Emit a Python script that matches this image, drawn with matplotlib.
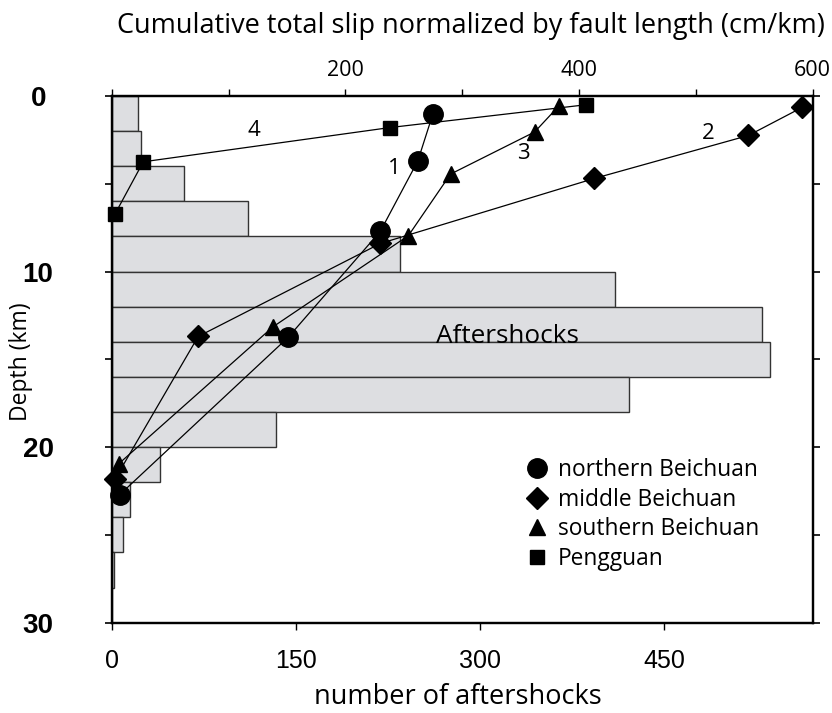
import matplotlib
matplotlib.use("Agg")
import matplotlib.pyplot as plt
from matplotlib.lines import Line2D
from matplotlib.ticker import FixedLocator
import numpy as np

# Aftershock depth histogram (2 km bins from 0 to 30 km)
bin_top = [0, 2, 4, 6, 8, 10, 12, 14, 16, 18, 20, 22, 24, 26, 28]
aftershock_counts = [21, 24, 59, 111, 235, 410, 530, 536, 421, 134, 39, 15, 9, 2, 0]

# Cumulative slip normalised by fault length (cm/km) against depth (km)
north_slip = [275, 262, 230, 151, 7]
north_depth = [1.0, 3.7, 7.7, 13.75, 22.7]

middle_slip = [591, 545, 413, 230, 74, 3]
middle_depth = [0.65, 2.25, 4.7, 8.4, 13.7, 21.8]

south_slip = [383, 362, 290, 254, 138, 6]
south_depth = [0.55, 2.05, 4.45, 7.95, 13.15, 20.95]

peng_slip = [406, 238, 27, 3]
peng_depth = [0.5, 1.8, 3.75, 6.7]

series_names = ["northern Beichuan", "middle Beichuan", "southern Beichuan", "Pengguan"]
series_tags = ["1", "2", "3", "4"]
tag_slip = [242, 511, 352, 122]
tag_depth = [4.15, 2.15, 3.3, 1.95]

LABEL_FONT = ["Open Sans", "DejaVu Sans"]
TICK_FONT = ["Liberation Sans", "DejaVu Sans"]

fig = plt.figure(figsize=(8.32, 7.13), dpi=100)
ax = fig.add_axes([0.1343, 0.1267, 0.8425, 0.7387])

# histogram bars
centers = np.array(bin_top) + 1.0
ax.barh(centers, aftershock_counts, height=2.0, color="#dddee1",
        edgecolor="#333333", linewidth=1.0, zorder=1)

ax.set_xlim(0, 571)
ax.set_ylim(30, 0)
ax.xaxis.set_major_locator(FixedLocator([0, 150, 300, 450]))
ax.yaxis.set_major_locator(FixedLocator([0, 10, 20, 30]))
ax.yaxis.set_minor_locator(FixedLocator([5, 15, 25]))
ax.tick_params(axis="x", which="major", direction="out", length=5, width=1.0,
               labelsize=18, pad=14)
ax.tick_params(axis="y", which="both", direction="out", length=5, width=1.2,
               right=True)
ax.tick_params(axis="y", which="major", labelsize=20, pad=48)
for lab in ax.get_xticklabels():
    lab.set_family(TICK_FONT)
for lab in ax.get_yticklabels():
    lab.set_family(TICK_FONT)
    lab.set_fontweight("bold")
    lab.set_horizontalalignment("center")
for sp in ax.spines.values():
    sp.set_linewidth(1.6)

ax.set_xlabel("number of aftershocks", fontsize=19.5, family=LABEL_FONT)
ax.xaxis.set_label_coords(0.494, -0.115)
ax.set_ylabel("Depth (km)", fontsize=16.5, family=LABEL_FONT)
ax.yaxis.set_label_coords(-0.13, 0.495)
ax.yaxis.label.set_verticalalignment("center")
ax.text(322, 13.7, "Aftershocks", fontsize=18.8, family=LABEL_FONT,
        ha="center", va="center", zorder=2)

# slip profiles on the top axis
ax2 = ax.twiny()
ax2.set_xlim(0, 600)
ax2.set_ylim(30, 0)
ax2.xaxis.set_major_locator(FixedLocator([200, 400, 600]))
ax2.xaxis.set_minor_locator(FixedLocator([0, 100, 300, 500]))
ax2.tick_params(axis="x", which="both", direction="out", length=5, width=1.0,
                labelsize=15.5, pad=6)
for lab in ax2.get_xticklabels():
    lab.set_family(LABEL_FONT)
for sp in ax2.spines.values():
    sp.set_linewidth(1.6)
ax2.set_xlabel("Cumulative total slip normalized by fault length (cm/km)",
               fontsize=19.5, family=LABEL_FONT)
ax2.xaxis.set_label_coords(0.513, 1.12)

styles = [
    (north_slip, north_depth, "o", 14),
    (middle_slip, middle_depth, "D", 11),
    (south_slip, south_depth, "^", 12),
    (peng_slip, peng_depth, "s", 10),
]
handles = []
for (xs, ys, m, ms), name in zip(styles, series_names):
    ax2.plot(xs, ys, color="black", lw=0.9, marker=m, ms=ms,
             markerfacecolor="black", markeredgecolor="black", zorder=3, clip_on=False)
    handles.append(Line2D([], [], linestyle="none", marker=m, ms=ms,
                          color="black", label=name))

for t, sx, sd in zip(series_tags, tag_slip, tag_depth):
    ax2.text(sx, sd, t, fontsize=16, family=LABEL_FONT, ha="center", va="center")

leg = ax2.legend(handles=handles, loc="upper left", bbox_to_anchor=(0.571, 0.33),
                 frameon=False, handlelength=1.4, handletextpad=0.2,
                 labelspacing=0.25, borderaxespad=0,
                 prop={"family": LABEL_FONT, "size": 16.4})

fig.savefig("out.png", dpi=100)
